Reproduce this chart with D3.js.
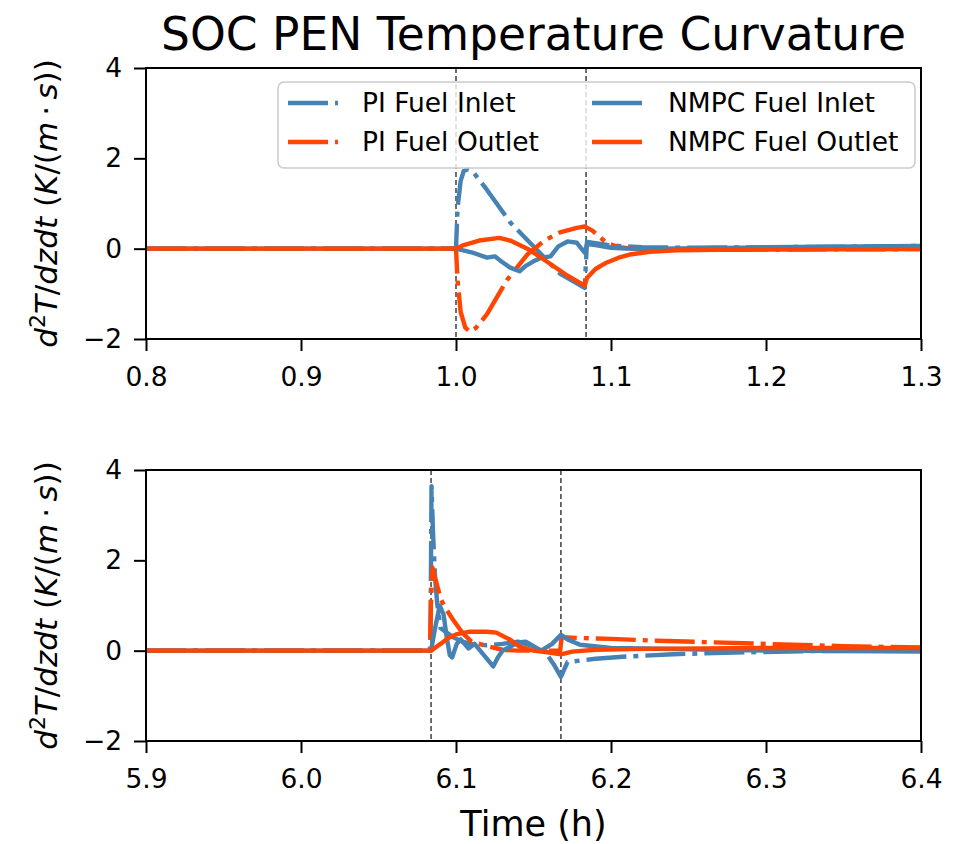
<!DOCTYPE html>
<html><head><meta charset="utf-8">
<script src="https://cdn.jsdelivr.net/npm/d3@7"></script>
<style>body{margin:0;background:#fff}svg{display:block}</style>
</head><body><div id="chart"></div>
<script>
// ---------- DATA ----------
const title = "SOC PEN Temperature Curvature";
const xTicksTop = [0.8, 0.9, 1.0, 1.1, 1.2, 1.3];
const xTicksBottom = [5.9, 6.0, 6.1, 6.2, 6.3, 6.4];
const yTicks = [-2, 0, 2, 4];
const stepTimesTop = [1.0, 1.0839];
const stepTimesBottom = [6.0839, 6.1677];
const seriesNames = ["PI Fuel Inlet", "PI Fuel Outlet", "NMPC Fuel Inlet", "NMPC Fuel Outlet"];

// Top panel
const topPiInletT = [0.8, 1.0, 1.001, 1.003, 1.005, 1.0077, 1.011, 1.02, 1.035, 1.052, 1.067, 1.083, 1.0845, 1.09, 1.1, 1.12, 1.15, 1.2, 1.3];
const topPiInletV = [0, 0, 0.9, 1.5, 1.72, 1.76, 1.7, 1.3, 0.58, -0.02, -0.55, -0.87, 0.15, 0.12, 0.07, 0.03, 0.02, 0.03, 0.06];
const topPiOutletT = [0.8, 1.0, 1.001, 1.003, 1.006, 1.009, 1.013, 1.02, 1.033, 1.046, 1.057, 1.067, 1.078, 1.083, 1.088, 1.097, 1.105, 1.12, 1.15, 1.2, 1.3];
const topPiOutletV = [0, 0, -0.7, -1.4, -1.75, -1.84, -1.75, -1.45, -0.69, -0.13, 0.18, 0.36, 0.46, 0.49, 0.4, 0.13, 0.03, -0.02, -0.03, -0.02, -0.01];
const topNmpcInletT = [0.8, 1.0, 1.01, 1.02, 1.025, 1.03, 1.035, 1.041, 1.045, 1.05, 1.055, 1.061, 1.066, 1.072, 1.078, 1.083, 1.0845, 1.09, 1.1, 1.11, 1.13, 1.2, 1.3];
const topNmpcInletV = [0, 0, -0.08, -0.2, -0.17, -0.3, -0.42, -0.5, -0.38, -0.28, -0.2, -0.17, 0.05, 0.16, 0.13, -0.09, 0.1, 0.08, 0.02, 0.0, 0.0, 0.03, 0.06];
const topNmpcOutletT = [0.8, 1.0, 1.005, 1.015, 1.028, 1.035, 1.046, 1.055, 1.063, 1.072, 1.083, 1.0845, 1.09, 1.097, 1.105, 1.112, 1.125, 1.145, 1.2, 1.3];
const topNmpcOutletV = [0, 0, 0.08, 0.18, 0.24, 0.18, 0.0, -0.2, -0.39, -0.6, -0.82, -0.65, -0.45, -0.31, -0.2, -0.13, -0.07, -0.03, -0.02, -0.01];

// Bottom panel
const botPiInletT = [5.9, 6.0835, 6.0842, 6.0852, 6.0865, 6.088, 6.09, 6.094, 6.098, 6.104, 6.11, 6.12, 6.13, 6.14, 6.15, 6.158, 6.163, 6.1677, 6.172, 6.18, 6.19, 6.21, 6.24, 6.28, 6.33, 6.4];
const botPiInletV = [0, 0, 3.64, 2.6, 1.6, 1.0, 0.5, 0.4, 0.3, 0.2, 0.15, 0.12, 0.15, 0.2, 0.1, -0.05, -0.3, -0.58, -0.25, -0.22, -0.18, -0.13, -0.08, -0.04, -0.01, 0.0];
const botPiOutletT = [5.9, 6.0832, 6.0838, 6.0848, 6.087, 6.0903, 6.094, 6.098, 6.104, 6.11, 6.12, 6.13, 6.14, 6.15, 6.16, 6.1672, 6.1682, 6.18, 6.2, 6.23, 6.26, 6.3, 6.35, 6.4];
const botPiOutletV = [0, 0, 1.0, 1.84, 1.55, 1.13, 0.9, 0.69, 0.4, 0.2, 0.1, 0.02, 0.0, 0.0, 0.0, 0.0, 0.3, 0.28, 0.26, 0.22, 0.19, 0.15, 0.1, 0.07];
const botNmpcInletT = [5.9, 6.0839, 6.0865, 6.0895, 6.092, 6.094, 6.096, 6.0975, 6.1005, 6.103, 6.108, 6.112, 6.118, 6.124, 6.127, 6.13, 6.14, 6.145, 6.15, 6.155, 6.162, 6.1677, 6.172, 6.18, 6.2, 6.25, 6.3, 6.4];
const botNmpcInletV = [0, 0, 0.5, 1.0, 0.8, 0.3, -0.1, -0.15, 0.15, 0.25, 0.05, 0.15, -0.1, -0.35, -0.15, 0.0, 0.18, 0.2, 0.1, 0.0, 0.15, 0.35, 0.25, 0.13, 0.06, 0.03, 0.0, -0.02];
const botNmpcOutletT = [5.9, 6.0839, 6.09, 6.095, 6.1, 6.109, 6.12, 6.126, 6.135, 6.141, 6.15, 6.16, 6.1677, 6.175, 6.19, 6.22, 6.26, 6.3, 6.35, 6.4];
const botNmpcOutletV = [0, 0, 0.15, 0.28, 0.36, 0.42, 0.42, 0.4, 0.24, 0.09, 0.0, -0.04, -0.08, -0.02, 0.02, 0.04, 0.05, 0.06, 0.06, 0.06];

// ---------- STYLE ----------
const BLUE = "#4682B4", ORANGE = "#FF4500";
const DASHDOT = "40,7,5,7";
const styles = [
  {color: BLUE, dash: DASHDOT},
  {color: ORANGE, dash: DASHDOT},
  {color: BLUE, dash: null},
  {color: ORANGE, dash: null}
];
const FONT = "DejaVu Sans, sans-serif";
const TICKFS = 26.5;
const W = 969, H = 844;
const xL = 146, xR = 921;

const svg = d3.select("#chart").append("svg").attr("width", W).attr("height", H);

svg.append("text").attr("x", (xL + xR) / 2).attr("y", 50).attr("text-anchor", "middle")
  .attr("font-family", FONT).attr("font-size", 45.5).attr("fill", "#000").text(title);

function zip(t, v) { return t.map((d, i) => [d, v[i]]); }

function panel(id, yTop, yBot, domainX, xTicks, steps, series, withLegend, withXLabel) {
  const x = d3.scaleLinear().domain(domainX).range([xL, xR]);
  const y = d3.scaleLinear().domain([-2, 4]).range([yBot, yTop]);
  const g = svg.append("g");
  g.append("clipPath").attr("id", id).append("rect")
    .attr("x", xL).attr("y", yTop).attr("width", xR - xL).attr("height", yBot - yTop);
  const plot = g.append("g").attr("clip-path", `url(#${id})`);

  steps.forEach(s => {
    plot.append("line").attr("x1", x(s)).attr("x2", x(s)).attr("y1", yTop).attr("y2", yBot)
      .attr("stroke", "#222").attr("stroke-width", 1.3).attr("stroke-dasharray", "5,3");
  });

  const line = d3.line().x(d => x(d[0])).y(d => y(d[1]));
  series.forEach((s, i) => {
    plot.append("path").datum(s).attr("d", line).attr("fill", "none")
      .attr("stroke", styles[i].color).attr("stroke-width", 4.4)
      .attr("stroke-dasharray", styles[i].dash)
      .attr("stroke-linejoin", "round");
  });

  const xa = g.append("g").attr("transform", `translate(0,${yBot})`)
    .call(d3.axisBottom(x).tickValues(xTicks).tickFormat(d3.format(".1f")).tickSize(12).tickPadding(16));
  const ya = g.append("g").attr("transform", `translate(${xL},0)`)
    .call(d3.axisLeft(y).tickValues(yTicks).tickFormat(d => d < 0 ? "\u2212" + Math.abs(d) : d).tickSize(12).tickPadding(12));
  [xa, ya].forEach(a => {
    a.select(".domain").remove();
    a.selectAll("line").attr("stroke", "#000").attr("stroke-width", 2);
    a.selectAll("text").attr("font-family", FONT).attr("font-size", TICKFS).attr("fill", "#000");
  });
  g.append("rect").attr("x", xL).attr("y", yTop).attr("width", xR - xL).attr("height", yBot - yTop)
    .attr("fill", "none").attr("stroke", "#000").attr("stroke-width", 2);

  const yc = (yTop + yBot) / 2;
  const yl = g.append("text").attr("transform", `translate(57,${yc}) rotate(-90)`)
    .attr("text-anchor", "middle").attr("font-family", FONT).attr("font-size", 31).attr("fill", "#000");
  yl.append("tspan").attr("font-style", "italic").text("d");
  yl.append("tspan").attr("font-size", 22).attr("dy", -12).text("2");
  yl.append("tspan").attr("font-style", "italic").attr("dy", 12).text("T");
  yl.append("tspan").text("/");
  yl.append("tspan").attr("font-style", "italic").text("dzdt");
  yl.append("tspan").text(" (");
  yl.append("tspan").attr("font-style", "italic").text("K");
  yl.append("tspan").text("/(");
  yl.append("tspan").attr("font-style", "italic").text("m");
  yl.append("tspan").text("\u2009\u00B7\u2009");
  yl.append("tspan").attr("font-style", "italic").text("s");
  yl.append("tspan").text("))");

  if (withXLabel) {
    g.append("text").attr("x", (xL + xR) / 2).attr("y", 836).attr("text-anchor", "middle")
      .attr("font-family", FONT).attr("font-size", 35).attr("fill", "#000").text("Time (h)");
  }

  if (withLegend) {
    const lg = g.append("g");
    lg.append("rect").attr("x", 278).attr("y", 82).attr("width", 637).attr("height", 86).attr("rx", 6)
      .attr("fill", "#fff").attr("fill-opacity", 0.8).attr("stroke", "#cccccc").attr("stroke-width", 1.5);
    const pos = [
      {hx: 288, tx: 362, y: 103},
      {hx: 288, tx: 362, y: 142},
      {hx: 592, tx: 668, y: 103},
      {hx: 592, tx: 668, y: 142}
    ];
    seriesNames.forEach((n, i) => {
      const p = pos[i];
      lg.append("line").attr("x1", p.hx).attr("x2", p.hx + 50).attr("y1", p.y).attr("y2", p.y)
        .attr("stroke", styles[i].color).attr("stroke-width", 4.4)
        .attr("stroke-dasharray", styles[i].dash);
      lg.append("text").attr("x", p.tx).attr("y", p.y).attr("dy", "0.35em")
        .attr("font-family", FONT).attr("font-size", TICKFS).attr("fill", "#000").text(n);
    });
  }
}

panel("clipTop", 68, 339, [0.8, 1.3], xTicksTop, stepTimesTop,
  [zip(topPiInletT, topPiInletV), zip(topPiOutletT, topPiOutletV), zip(topNmpcInletT, topNmpcInletV), zip(topNmpcOutletT, topNmpcOutletV)],
  true, false);
panel("clipBot", 470, 741, [5.9, 6.4], xTicksBottom, stepTimesBottom,
  [zip(botPiInletT, botPiInletV), zip(botPiOutletT, botPiOutletV), zip(botNmpcInletT, botNmpcInletV), zip(botNmpcOutletT, botNmpcOutletV)],
  false, true);
</script></body></html>
